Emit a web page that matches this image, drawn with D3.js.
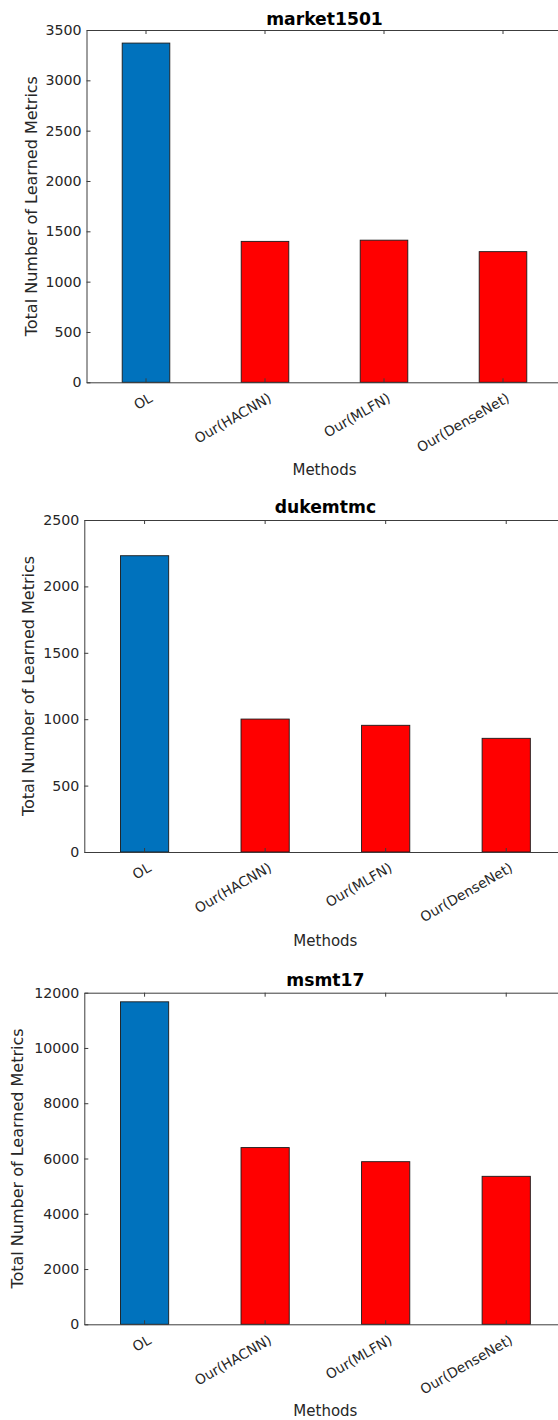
<!DOCTYPE html>
<html>
<head>
<meta charset="utf-8">
<script src="https://cdn.jsdelivr.net/npm/d3@7"></script>
<style>
  body { margin: 0; background: #fff; }
  svg { display: block; font-family: 'DejaVu Sans', sans-serif; }
</style>
</head>
<body>
<div id="chart"></div>
<script>
const methods = ['OL', 'Our(HACNN)', 'Our(MLFN)', 'Our(DenseNet)'];
const datasetNames = ['market1501', 'dukemtmc', 'msmt17'];
const market1501Counts = [3370, 1400, 1412, 1298];
const dukemtmcCounts = [2231, 1001, 954, 856];
const msmt17Counts = [11670, 6395, 5885, 5355];
const yMaxes = [3500, 2500, 12000];
const yTickSteps = [500, 500, 2000];

const W = 558, H = 1420;
const textColor = '#262626';
const axisColor = '#3c3c3c';
const barColors = d => d === 'OL' ? '#0072BD' : '#FF0000';

// panel boxes: left, top, right, bottom (right edge falls outside the page)
const panels = [
  { left: 86.5, top: 30, right: 562.5, bottom: 382.3, ylabX: 37, titleY: 25, xlabY: 474.5 },
  { left: 84.3, top: 520, right: 566.5, bottom: 852, ylabX: 33.5, titleY: 513.3, xlabY: 946 },
  { left: 84.3, top: 992.7, right: 566.5, bottom: 1324.3, ylabX: 23, titleY: 986, xlabY: 1415.5 },
];

const allCounts = [market1501Counts, dukemtmcCounts, msmt17Counts];

const svg = d3.select('#chart').append('svg')
  .attr('width', W).attr('height', H);

panels.forEach((p, i) => {
  const counts = allCounts[i];
  const data = methods.map((m, j) => ({ method: m, value: counts[j] }));

  const x = d3.scaleBand()
    .domain(methods)
    .range([p.left, p.right])
    .padding(0);
  const y = d3.scaleLinear()
    .domain([0, yMaxes[i]])
    .range([p.bottom, p.top]);

  const g = svg.append('g');

  // bars
  const bw = x.bandwidth() * 0.4;
  g.selectAll('rect.bar')
    .data(data)
    .join('rect')
    .attr('class', 'bar')
    .attr('x', d => x(d.method) + x.bandwidth() / 2 - bw / 2)
    .attr('width', bw)
    .attr('y', d => y(d.value))
    .attr('height', d => y(0) - y(d.value))
    .attr('fill', d => barColors(d.method))
    .attr('stroke', '#1a1a1a')
    .attr('stroke-width', 0.9);

  // left axis
  const ticks = d3.range(0, yMaxes[i] + 1, yTickSteps[i]);
  const yAxis = g.append('g')
    .attr('transform', `translate(${p.left},0)`)
    .call(d3.axisLeft(y).tickValues(ticks).tickFormat(d3.format('d')).tickSizeInner(-4).tickSizeOuter(0).tickPadding(5));
  yAxis.select('.domain').attr('stroke', axisColor);
  yAxis.selectAll('.tick line').attr('stroke', axisColor);
  yAxis.selectAll('text').attr('fill', textColor).style('font-size', '14.2px').style('font-family', 'DejaVu Sans');

  // bottom axis, rotated labels
  const xAxis = g.append('g')
    .attr('transform', `translate(0,${p.bottom})`)
    .call(d3.axisBottom(x).tickSizeInner(-4).tickSizeOuter(0).tickPadding(0));
  xAxis.select('.domain').attr('stroke', axisColor);
  xAxis.selectAll('.tick line').attr('stroke', axisColor);
  xAxis.selectAll('text')
    .attr('fill', textColor)
    .style('font-size', '13.8px')
    .style('font-family', 'DejaVu Sans')
    .attr('text-anchor', 'end')
    .attr('dy', null)
    .attr('y', 0)
    .attr('transform', 'translate(7.5,18.5) rotate(-30)');

  // top axis (box)
  const topAxis = g.append('g')
    .attr('transform', `translate(0,${p.top})`)
    .call(d3.axisTop(x).tickSizeInner(-4).tickSizeOuter(0).tickFormat(''));
  topAxis.select('.domain').attr('stroke', axisColor);
  topAxis.selectAll('.tick line').attr('stroke', axisColor);

  g.append('line')
    .attr('x1', p.right).attr('x2', p.right)
    .attr('y1', p.top).attr('y2', p.bottom)
    .attr('stroke', axisColor);

  // title
  g.append('text')
    .attr('x', (p.left + p.right) / 2)
    .attr('y', p.titleY)
    .attr('text-anchor', 'middle')
    .attr('fill', '#000')
    .style('font-size', '17.2px')
    .style('font-weight', 'bold')
    .text(datasetNames[i]);

  // y label
  g.append('text')
    .attr('transform', `translate(${p.ylabX},${(p.top + p.bottom) / 2}) rotate(-90)`)
    .attr('text-anchor', 'middle')
    .attr('fill', textColor)
    .style('font-size', '16px')
    .text('Total Number of Learned Metrics');

  // x label
  g.append('text')
    .attr('x', (p.left + p.right) / 2)
    .attr('y', p.xlabY)
    .attr('text-anchor', 'middle')
    .attr('fill', textColor)
    .style('font-size', '15px')
    .text('Methods');
});
</script>
</body>
</html>
